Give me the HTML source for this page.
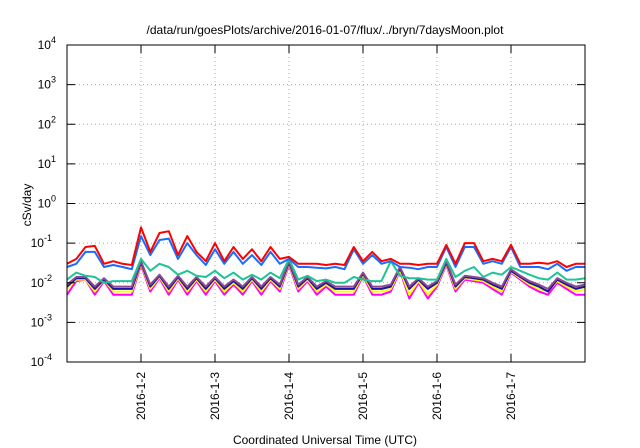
<!DOCTYPE html>
<html><head><meta charset="utf-8"><style>
html,body{margin:0;padding:0;background:#fff;}
svg{display:block;font-family:"Liberation Sans",sans-serif;}
</style></head><body>
<svg id="chart" width="640" height="448" viewBox="0 0 640 448">
<text x="325" y="34" font-size="12" text-anchor="middle">/data/run/goesPlots/archive/2016-01-07/flux/../bryn/7daysMoon.plot</text>
<text x="0" y="0" font-size="12" text-anchor="middle" transform="translate(31,205) rotate(-90)">cSv/day</text>
<text x="325" y="444" font-size="12" text-anchor="middle">Coordinated Universal Time (UTC)</text>
<g id="grid"></g><g id="series"></g><g id="axes"></g>
</svg>
<script>
const dayLabels=["2016-1-2","2016-1-3","2016-1-4","2016-1-5","2016-1-6","2016-1-7"];
const yExps=[-4,-3,-2,-1,0,1,2,3,4];
const seriesNames=["magenta","yellow","navy","purple","green","blue","red"];
const red=[0.03,0.04,0.08,0.085,0.03,0.035,0.03,0.028,0.25,0.06,0.18,0.2,0.05,0.15,0.06,0.035,0.1,0.035,0.08,0.04,0.07,0.035,0.08,0.04,0.045,0.03,0.03,0.03,0.028,0.03,0.028,0.08,0.035,0.06,0.035,0.04,0.03,0.03,0.028,0.03,0.03,0.09,0.03,0.1,0.1,0.035,0.04,0.035,0.09,0.03,0.03,0.032,0.03,0.035,0.025,0.03,0.03];
const blue=[0.025,0.03,0.06,0.06,0.025,0.028,0.025,0.022,0.15,0.05,0.12,0.13,0.04,0.1,0.05,0.028,0.07,0.03,0.06,0.03,0.05,0.028,0.06,0.03,0.04,0.025,0.025,0.024,0.023,0.025,0.022,0.07,0.03,0.05,0.03,0.035,0.025,0.024,0.022,0.025,0.025,0.08,0.025,0.08,0.08,0.03,0.035,0.03,0.08,0.025,0.025,0.025,0.022,0.03,0.02,0.025,0.025];
const green=[0.012,0.018,0.015,0.014,0.01,0.011,0.011,0.011,0.04,0.02,0.03,0.025,0.016,0.02,0.015,0.014,0.02,0.013,0.018,0.012,0.016,0.012,0.018,0.013,0.04,0.012,0.015,0.011,0.012,0.01,0.01,0.014,0.012,0.011,0.011,0.035,0.015,0.013,0.013,0.012,0.012,0.04,0.014,0.02,0.025,0.014,0.018,0.016,0.025,0.02,0.016,0.013,0.012,0.018,0.012,0.012,0.013];
const purple=[0.009,0.014,0.014,0.008,0.013,0.008,0.008,0.008,0.035,0.009,0.016,0.008,0.015,0.008,0.014,0.008,0.014,0.008,0.012,0.008,0.014,0.008,0.014,0.009,0.035,0.009,0.014,0.008,0.011,0.008,0.008,0.008,0.018,0.008,0.008,0.009,0.025,0.008,0.013,0.008,0.011,0.035,0.009,0.015,0.014,0.013,0.01,0.008,0.022,0.015,0.011,0.009,0.007,0.013,0.01,0.008,0.009];
const navy=[0.008,0.013,0.013,0.007,0.012,0.007,0.007,0.007,0.032,0.008,0.015,0.007,0.014,0.007,0.013,0.007,0.013,0.007,0.011,0.007,0.013,0.007,0.013,0.008,0.032,0.008,0.013,0.007,0.01,0.007,0.007,0.007,0.017,0.007,0.007,0.008,0.023,0.007,0.012,0.007,0.01,0.032,0.008,0.014,0.013,0.012,0.009,0.007,0.02,0.014,0.01,0.008,0.006,0.012,0.009,0.007,0.008];
const yellow=[0.007,0.012,0.012,0.006,0.012,0.006,0.006,0.006,0.03,0.007,0.014,0.006,0.013,0.006,0.012,0.006,0.012,0.006,0.01,0.006,0.012,0.006,0.012,0.007,0.03,0.007,0.012,0.006,0.009,0.006,0.006,0.006,0.016,0.006,0.006,0.007,0.021,0.005,0.011,0.005,0.009,0.03,0.007,0.013,0.012,0.011,0.008,0.006,0.019,0.013,0.009,0.007,0.006,0.011,0.008,0.006,0.007];
const magenta=[0.005,0.011,0.012,0.005,0.011,0.005,0.005,0.005,0.028,0.006,0.013,0.005,0.012,0.005,0.011,0.005,0.011,0.005,0.009,0.005,0.011,0.005,0.011,0.006,0.028,0.006,0.011,0.005,0.008,0.005,0.005,0.005,0.015,0.005,0.005,0.006,0.02,0.004,0.01,0.004,0.008,0.028,0.006,0.012,0.011,0.01,0.007,0.005,0.018,0.012,0.008,0.006,0.005,0.01,0.007,0.005,0.005];

const NS="http://www.w3.org/2000/svg";
const L=67,R=585,T=45,B=362;
const xDay=d=>L+(R-L)*d/7;
const xIdx=i=>xDay(i/8);
const yV=v=>T+(4-Math.log10(v))*(B-T)/8;
function mk(tag,attrs,parent){const e=document.createElementNS(NS,tag);for(const k in attrs)e.setAttribute(k,attrs[k]);parent.appendChild(e);return e;}
const grid=document.getElementById('grid'),axes=document.getElementById('axes'),ser=document.getElementById('series');
yExps.forEach(e=>{
  const y=yV(Math.pow(10,e));
  if(e>-4&&e<4){const g=mk('line',{x1:L,x2:R,y1:y,y2:y,stroke:'#aaa','stroke-dasharray':'1,3','stroke-width':1},grid);
  
  }
  const t1=mk('line',{x1:L,x2:L+8,y1:y,y2:y,stroke:'#000'},axes);
  
  
  const t2=mk('line',{x1:R-8,x2:R,y1:y,y2:y,stroke:'#000'},axes);
  
  
  const tx=mk('text',{x:e<0?52:56,y:y+4,'font-size':12,'text-anchor':'end'},axes);
  
  
  tx.innerHTML='10<tspan dy="-6" font-size="9">'+e+'</tspan>';
});
dayLabels.forEach((lab,i)=>{
  const x=xDay(i+1);
  const g=mk('line',{x1:x,x2:x,y1:T,y2:B,stroke:'#aaa','stroke-dasharray':'1,3'},grid);
  
  
  const t=mk('line',{x1:x,x2:x,y1:B-8,y2:B,stroke:'#000'},axes);
  
  
  const t2=mk('line',{x1:x,x2:x,y1:T,y2:T+8,stroke:'#000'},axes);
  
  
  const tx=mk('text',{'font-size':12,'text-anchor':'end',transform:`translate(${x+4},${B+10}) rotate(-90)`},axes);
  
  
  tx.textContent=lab;
});
const fr=mk('rect',{x:L,y:T,width:R-L,height:B-T,fill:'none',stroke:'#000','stroke-width':1},axes);


const data={magenta,yellow,navy,purple,green,blue,red};
const colors={magenta:'#ff00ff',yellow:'#ffff00',navy:'#1414a8',purple:'#8e4a8e',green:'#1ec496',blue:'#1a6cff',red:'#ff0000'};
seriesNames.forEach(n=>{
  const pts=data[n].map((v,i)=>xIdx(i).toFixed(1)+','+yV(v).toFixed(1)).join(' ');
  const p=mk('polyline',{points:pts,fill:'none',stroke:colors[n],'stroke-width':2,'stroke-linejoin':'round'},ser);
  
  
});
</script>
</body></html>
